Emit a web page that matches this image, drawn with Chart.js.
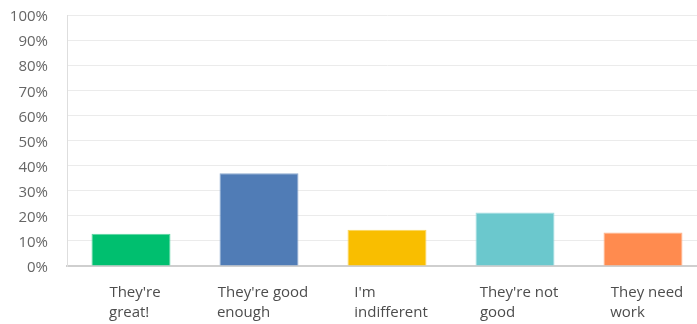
<!DOCTYPE html>
<html>
<head>
<meta charset="utf-8">
<script src="https://cdn.jsdelivr.net/npm/chart.js@4/dist/chart.umd.min.js"></script>
<style>
  html, body { margin: 0; padding: 0; background: #fff; }
  #wrap { width: 697px; height: 324px; overflow: hidden; position: relative; }
  canvas { display: block; }
</style>
</head>
<body>
<div id="wrap"><canvas id="c" width="740" height="324"></canvas></div>
<script>
// ---- data ----
const CATEGORIES = ["They're great!", "They're good enough", "I'm indifferent", "They're not good", "They need work"];
const LABEL_LINES = [["They're", "great!"], ["They're good", "enough"], ["I'm", "indifferent"], ["They're not", "good"], ["They need", "work"]];
const VALUES = [12.8, 37.0, 14.4, 21.3, 13.3];
const Y_MIN = 0, Y_MAX = 100, Y_STEP = 10;

// ---- style ----
const COLORS = ['#00BF6F', '#507CB6', '#F9BE00', '#6BC8CD', '#FF8B4F'];
function lighten(hex, f) {
  const n = parseInt(hex.slice(1), 16);
  const r = (n >> 16) & 255, g = (n >> 8) & 255, b = n & 255;
  const m = c => Math.round(c + (255 - c) * f);
  return `rgb(${m(r)},${m(g)},${m(b)})`;
}
const FONT_FAMILY = '"Open Sans", "Noto Sans", sans-serif';
const LABEL_FONT_SIZE = 15;
const PAD_RIGHT = 33;
const Y_AXIS_W = 67;
const X_AXIS_H = 58;

// pad each line with trailing spaces so centred lines look left-aligned in a centred box
function leftAlignLines(ctx, lines) {
  ctx.save();
  ctx.font = LABEL_FONT_SIZE + 'px ' + FONT_FAMILY;
  const widths = lines.map(l => ctx.measureText(l).width);
  const maxW = Math.max(...widths);
  const sp = ctx.measureText(' ').width;
  const hair = ctx.measureText('\u200A').width || 0;
  const out = lines.map((l, i) => {
    let s = l;
    let gap = maxW - widths[i];
    while (gap > sp / 2 + 0.01 && ctx.measureText(s + ' ').width <= maxW + sp / 2) { s += ' '; gap = maxW - ctx.measureText(s).width; }
    if (hair > 0) {
      while (gap > hair / 2) { s += '\u200A'; gap = maxW - ctx.measureText(s).width; }
    }
    return s;
  });
  ctx.restore();
  return out;
}

const ctx = document.getElementById('c').getContext('2d');
new Chart(ctx, {
  type: 'bar',
  data: {
    labels: CATEGORIES,
    datasets: [{
      data: VALUES,
      backgroundColor: COLORS,
      borderColor: COLORS.map(c => lighten(c, 0.35)),
      borderWidth: 1,
      borderSkipped: 'bottom',
      barPercentage: 0.617,
      categoryPercentage: 1.0
    }]
  },
  options: {
    responsive: false,
    devicePixelRatio: 1,
    animation: false,
    layout: { padding: { top: 15, right: PAD_RIGHT, bottom: 0, left: 0 } },
    plugins: { legend: { display: false }, tooltip: { enabled: false } },
    scales: {
      x: {
        type: 'category',
        position: 'bottom',
        offset: true,
        grid: { display: false, drawTicks: false },
        border: { display: true, color: '#cfcfcf', width: 2 },
        ticks: {
          autoSkip: false,
          maxRotation: 0,
          minRotation: 0,
          padding: 17,
          labelOffset: 4,
          color: '#4d4d4d',
          font: { family: FONT_FAMILY, size: LABEL_FONT_SIZE, lineHeight: '20px' },
          callback: function (v, i) { return leftAlignLines(this.ctx, LABEL_LINES[i]); }
        },
        afterFit: s => { s.height = X_AXIS_H; }
      },
      y: {
        min: Y_MIN,
        max: Y_MAX,
        ticks: {
          stepSize: Y_STEP,
          padding: 2,
          labelOffset: 2,
          color: '#666666',
          font: { family: FONT_FAMILY, size: 15 },
          callback: v => v + '%'
        },
        grid: { color: '#ebebeb', lineWidth: 1, drawTicks: true, tickLength: 17, tickColor: 'rgba(0,0,0,0)' },
        border: { display: true, color: '#dedede', width: 1 },
        afterFit: s => { s.width = Y_AXIS_W; }
      }
    }
  }
});
</script>
</body>
</html>
